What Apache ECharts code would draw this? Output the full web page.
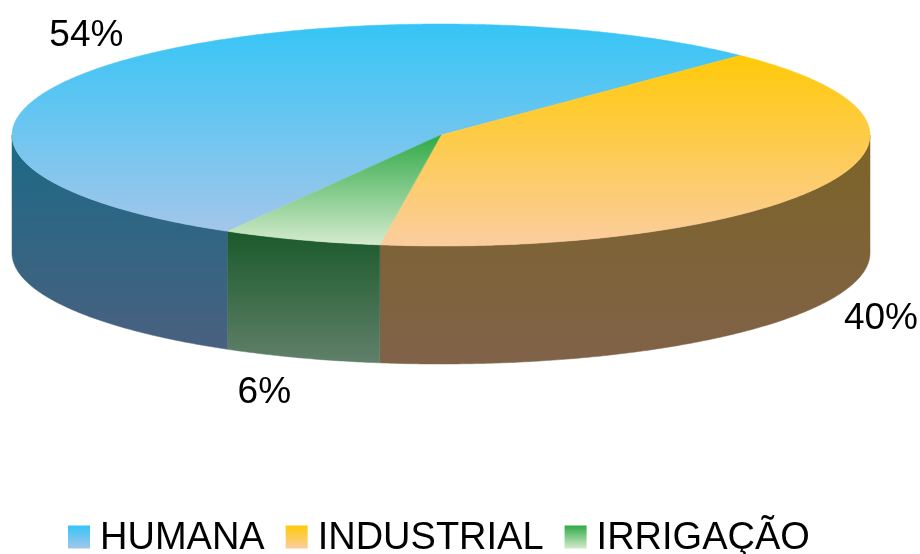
<!DOCTYPE html>
<html>
<head>
<meta charset="utf-8">
<style>
  html, body { margin: 0; padding: 0; background: #fff; }
  #chart { width: 920px; height: 554px; }
</style>
<script src="https://cdn.jsdelivr.net/npm/echarts@6/dist/echarts.min.js"></script>
</head>
<body>
<div id="chart"></div>
<script>
let categories = ["HUMANA", "INDUSTRIAL", "IRRIGAÇÃO"];
let shares = [54, 40, 6];

// top and side gradients of each slice
let topColors = [["#35c5f6", "#a3c6ea"], ["#ffca08", "#fbcd9f"], ["#2fa947", "#d5ebcd"]];
let sideColors = [["#1b6a85", "#4a6080"], ["#7c6426", "#806249"], ["#1a5a2b", "#61806a"]];

// flat pie geometry, angles run clockwise from east
let cx = 441, cy = 135, rx = 429, ry = 111, depth = 118;
let startAngle = 119.8;
let labelOffsets = [[-12, -32], [55, 135], [-37, 153]];

let total = shares.reduce((a, b) => a + b, 0);

function vertical(colors) {
  return new echarts.graphic.LinearGradient(0, 0, 0, 1, [
    { offset: 0, color: colors[0] },
    { offset: 1, color: colors[1] },
  ]);
}

function rim(deg, dy) {
  let r = (deg * Math.PI) / 180;
  return [cx + rx * Math.cos(r), cy + ry * Math.sin(r) + dy];
}

function arc(from, to, dy) {
  let pts = [];
  let n = Math.max(2, Math.ceil(Math.abs(to - from) * 2));
  for (let i = 0; i <= n; i++) {
    pts.push(rim(from + ((to - from) * i) / n, dy));
  }
  return pts;
}

function sliceRange(index) {
  let before = shares.slice(0, index).reduce((a, b) => a + b, 0);
  let from = startAngle + (before / total) * 360;
  return [from, from + (shares[index] / total) * 360];
}

function renderSlice(index) {
  return function (params, api) {
    let range = sliceRange(index);
    let children = [];
    // the wall only shows on the front half of the disc
    [[0, 180], [360, 540]].forEach((front) => {
      let a = Math.max(range[0], front[0]);
      let b = Math.min(range[1], front[1]);
      if (b <= a) return;
      children.push({
        type: "polygon",
        shape: { points: arc(a, b, 0).concat(arc(b, a, depth)) },
        style: { fill: vertical(sideColors[index]), stroke: vertical(sideColors[index]), lineWidth: 0.5 },
      });
    });
    children.push({
      type: "polygon",
      shape: { points: [[cx, cy]].concat(arc(range[0], range[1], 0)) },
      style: { fill: vertical(topColors[index]), stroke: vertical(topColors[index]), lineWidth: 0.5 },
    });
    let mid = rim((range[0] + range[1]) / 2, 0);
    children.push({
      type: "text",
      style: {
        x: mid[0] + labelOffsets[index][0],
        y: mid[1] + labelOffsets[index][1],
        text: api.value(0) + "%",
        fill: "#000",
        font: '37px "Liberation Sans", Arial, sans-serif',
        align: "center",
        verticalAlign: "middle",
      },
    });
    return { type: "group", children: children };
  };
}

let chart = echarts.init(document.getElementById("chart"));
chart.setOption({
  animation: false,
  backgroundColor: "#fff",
  legend: {
    data: categories,
    icon: "rect",
    left: 68,
    top: 520,
    padding: 0,
    itemWidth: 22,
    itemHeight: 23,
    itemGap: 21,
    formatter: "{a|{name}}",
    textStyle: {
      rich: {
        a: {
          color: "#000",
          fontSize: 38,
          fontFamily: '"Liberation Sans", Arial, sans-serif',
          lineHeight: 42,
          verticalAlign: "bottom",
          padding: [0, 0, 0, 5],
        },
      },
    },
  },
  series: categories.map((name, i) => ({
    name: name,
    type: "custom",
    coordinateSystem: "none",
    itemStyle: { color: vertical(topColors[i]) },
    renderItem: renderSlice(i),
    data: [[shares[i]]],
  })),
});
</script>
</body>
</html>
